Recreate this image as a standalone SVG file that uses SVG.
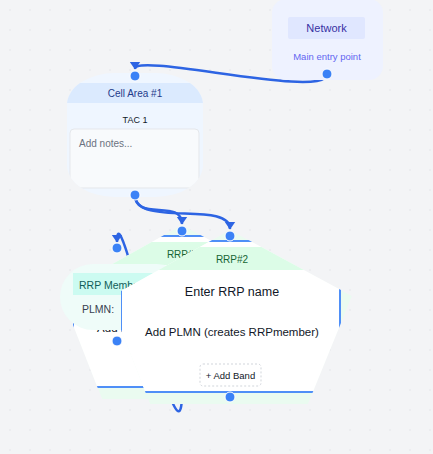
<svg xmlns="http://www.w3.org/2000/svg" width="433" height="454" viewBox="0 0 433 454">
<defs>
<pattern id="dots" width="20" height="20" patternUnits="userSpaceOnUse"><circle cx="10" cy="10" r="0.7" fill="#dfe1e6"/></pattern>
<marker id="arr" viewBox="0 0 8 12" refX="7.5" refY="6" markerWidth="8" markerHeight="12" markerUnits="userSpaceOnUse" orient="auto"><path d="M0,0.5 L8,6 L0,11.5 Z" fill="#2d64e3"/></marker>
<clipPath id="cellClip"><rect x="67" y="73" width="136" height="124" rx="48" ry="32"/></clipPath>
<clipPath id="rrp1Clip"><polygon points="182,225 304,291 260,399 102,399 73,325 73,286"/></clipPath>
<clipPath id="rrp2Clip"><polygon points="230,230 352,296 308,404 150,404 121,330 121,291"/></clipPath>
</defs>
<style>
text { font-family: "Liberation Sans", Arial, sans-serif; }
.edge { fill: none; stroke: #2d64e3; stroke-width: 2.5; marker-end: url(#arr); }
.h { fill: #3b82f6; stroke: #ffffff; stroke-width: 1; }
.outer { fill: #eafbf0; }
.card { fill: #ffffff; stroke: #4f8ff7; stroke-width: 2; }
.band { fill: #dcfce7; }
.rrpTitle { font-size: 10px; fill: #166534; text-anchor: middle; }
.rrpName { font-size: 12.5px; fill: #111827; text-anchor: middle; }
.rrpPlmn { font-size: 11.5px; fill: #111827; text-anchor: middle; }
.btn { fill: #ffffff; stroke: #d1d5db; stroke-width: 1; stroke-dasharray: 2 2; }
.btnText { font-size: 9.5px; fill: #111827; text-anchor: middle; }
</style>
<rect x="0" y="0" width="433" height="454" fill="#f3f4f6"/>
<rect x="0" y="0" width="433" height="454" fill="url(#dots)"/>

<g id="connectors">
<path class="edge" d="M327,74 C327,100 135,52 135,69"/>
<path class="edge" d="M135,195 C135,222 182,198 182,224"/>
<path class="edge" d="M135,195 C135,228 230,200 230,229"/>
<path class="edge" d="M182,392 C182,490 117,180 117,242"/>
</g>

<g id="node-network">
<rect x="272" y="-1" width="111" height="81" rx="14" fill="#eef2ff"/>
<rect x="288" y="17" width="77" height="22" rx="2" fill="#e0e7ff"/>
<text x="326.5" y="32" text-anchor="middle" font-size="11" fill="#3730a3">Network</text>
<text x="327" y="60" text-anchor="middle" font-size="9.5" fill="#6366f1">Main entry point</text>
<circle class="h" cx="327" cy="74" r="5"/>
</g>

<g id="node-cellarea">
<g clip-path="url(#cellClip)">
<rect x="67" y="73" width="136" height="124" fill="#eff6ff"/>
<rect x="67" y="83" width="136" height="20" fill="#dbeafe"/>
<text x="135" y="97" text-anchor="middle" font-size="10" fill="#1e3a8a">Cell Area #1</text>
<text x="135" y="123" text-anchor="middle" font-size="9" fill="#111827">TAC 1</text>
<rect x="70" y="129" width="129" height="59" rx="4" fill="#f8fafc" stroke="#e5e7eb" stroke-width="1"/>
<text x="79" y="147" font-size="10" fill="#6b7280">Add notes...</text>
</g>
<circle class="h" cx="135" cy="76" r="5"/>
<circle class="h" cx="135" cy="195" r="5"/>
</g>

<g id="node-rrp1">
<g clip-path="url(#rrp1Clip)">
<polygon class="outer" points="182,225 304,291 260,399 102,399 73,325 73,286"/>
<rect class="card" x="73" y="236" width="219" height="151"/>
<rect class="band" x="74" y="242" width="217" height="23"/>
<text class="rrpTitle" x="183" y="258">RRP#1</text>
<text class="rrpName" x="184" y="290.5">Enter RRP name</text>
<text class="rrpPlmn" x="184" y="332">Add PLMN (creates RRPmember)</text>
<rect class="btn" x="152" y="359" width="61" height="22" rx="3"/>
<text class="btnText" x="182.5" y="373.5">+ Add Band</text>
</g>
<circle class="h" cx="182" cy="231" r="5"/>
</g>

<g id="node-rrpmember">
<rect x="60" y="264" width="130" height="66" rx="33" fill="#effcf9"/>
<rect x="73" y="273" width="117" height="22" fill="#ccfbf1"/>
<text x="79" y="289" font-size="10.5" fill="#115e59">RRP Member</text>
<text x="82" y="313" font-size="10.5" fill="#374151">PLMN:</text>
<circle class="h" cx="117" cy="248" r="5"/>
<circle class="h" cx="117" cy="341" r="5"/>
</g>

<g id="node-rrp2">
<g clip-path="url(#rrp2Clip)">
<polygon class="outer" points="230,230 352,296 308,404 150,404 121,330 121,291"/>
<rect class="card" x="121" y="241" width="219" height="151"/>
<rect class="band" x="122" y="247" width="217" height="23"/>
<text class="rrpTitle" x="232" y="262.5">RRP#2</text>
<text class="rrpName" x="232" y="295.5">Enter RRP name</text>
<text class="rrpPlmn" x="232" y="335.5">Add PLMN (creates RRPmember)</text>
<rect class="btn" x="200" y="364" width="61" height="22" rx="3"/>
<text class="btnText" x="230.5" y="378.5">+ Add Band</text>
</g>
<circle class="h" cx="230" cy="236" r="5"/>
<circle class="h" cx="230" cy="397" r="5"/>
</g>
</svg>
